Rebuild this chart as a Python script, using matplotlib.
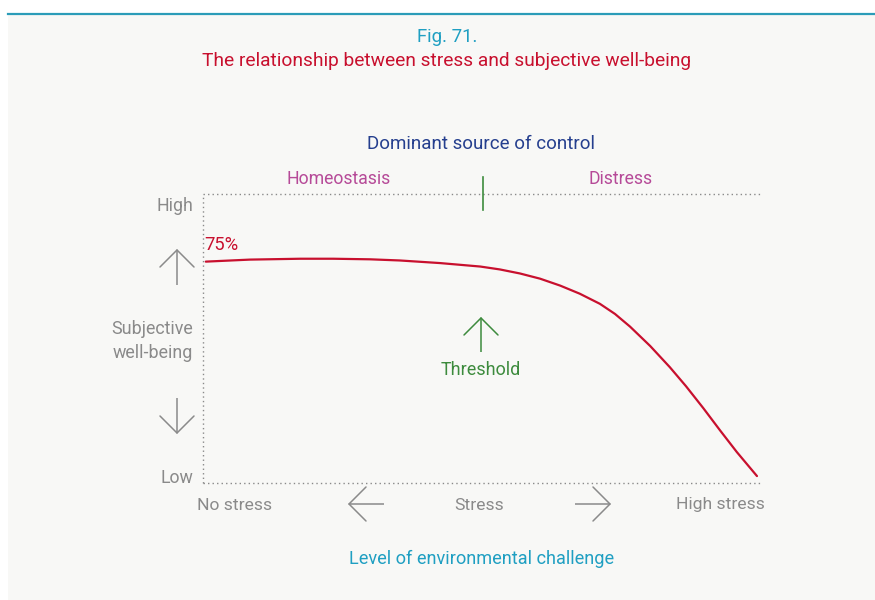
import matplotlib
matplotlib.use("Agg")
import matplotlib.pyplot as plt
from matplotlib.patches import Rectangle
import numpy as np

plt.rcParams['font.family'] = ['Roboto', 'DejaVu Sans']

# ---- data (stress level 0-100, subjective well-being %) ----
stress = [0.5, 8.4, 17.4, 23.3, 29.9, 35.2, 42.4, 49.6, 53.1, 56.7, 60.3, 63.9,
          67.4, 71.0, 73.7, 76.4, 80.0, 83.5, 86.4, 89.5, 92.5, 95.5, 99.1]
wellbeing = [76.6, 77.3, 77.6, 77.6, 77.4, 77.0, 76.1, 74.9, 73.9, 72.5, 70.7, 68.3,
             65.5, 62.0, 58.5, 54.1, 47.4, 40.1, 33.5, 25.9, 18.2, 10.7, 2.4]
threshold_x = 50.0
start_label = "75%"

fig_title_num = "Fig. 71."
fig_title = "The relationship between stress and subjective well-being"
top_title = "Dominant source of control"
zone_labels = ["Homeostasis", "Distress"]
x_labels = ["No stress", "Stress", "High stress"]
y_labels = ["High", "Subjective\nwell-being", "Low"]
x_title = "Level of environmental challenge"

W, H = 875, 600
fig = plt.figure(figsize=(W / 100, H / 100), dpi=100, facecolor='white')

# overlay axes in pixel coordinates
ov = fig.add_axes([0, 0, 1, 1])
ov.set_xlim(0, W)
ov.set_ylim(H, 0)
ov.axis('off')
ov.add_patch(Rectangle((8, 15), W - 8, H - 15, facecolor='#f8f8f6', edgecolor='none', zorder=0))
ov.plot([8, W], [14, 14], color='#2b9cb8', lw=1.6, zorder=1)

teal = '#1f9fc2'
red = '#c8102e'
navy = '#253f8e'
magenta = '#b64a98'
green = '#3d8b3d'
gray = '#8a8a8a'

ov.text(447, 37, fig_title_num, color=teal, fontsize=13.4, ha='center', va='center')
ov.text(447, 61, fig_title, color=red, fontsize=13.8, ha='center', va='center')

# main axes
L, R, T, B = 203, 762, 194, 483
ax = fig.add_axes([L / W, 1 - B / H, (R - L) / W, (B - T) / H])
ax.set_xlim(0, 100)
ax.set_ylim(0, 100)
ax.patch.set_alpha(0)
for s in ax.spines.values():
    s.set_visible(False)
ax.set_xticks([])
ax.set_yticks([])
dot = dict(color=gray, lw=1.0, linestyle=(0, (1, 2.25)), clip_on=False)
ax.plot([0, 100], [100, 100], **dot)
ax.plot([0, 100], [0, 0], **dot)
ax.plot([0, 0], [0, 100], **dot)

ax.plot(stress, wellbeing, color=red, lw=1.6, solid_capstyle='round',
        solid_joinstyle='round', clip_on=False)
ax.text(stress[0] - 0.2, wellbeing[0] + 2.5, start_label, color=red, fontsize=13.2,
        ha='left', va='bottom')
ax.plot([threshold_x, threshold_x], [94.5, 106], color=green, lw=1.2, clip_on=False)

# texts around
ov.text(481, 144, top_title, color=navy, fontsize=13.5, ha='center', va='center')
ov.text(339, 179, zone_labels[0], color=magenta, fontsize=12.7, ha='center', va='center')
ov.text(621, 179, zone_labels[1], color=magenta, fontsize=12.7, ha='center', va='center')

ov.text(193, 206, y_labels[0], color=gray, fontsize=12.8, ha='right', va='center')
ov.text(193, 341, y_labels[1], color=gray, fontsize=12.9, ha='right', va='center',
        multialignment='right', linespacing=1.45)
ov.text(193, 478, y_labels[2], color=gray, fontsize=12.8, ha='right', va='center')

ov.text(235, 505, x_labels[0], color=gray, fontsize=12.6, ha='center', va='center')
ov.text(479, 505, x_labels[1], color=gray, fontsize=12.6, ha='center', va='center')
ov.text(720, 505, x_labels[2], color=gray, fontsize=12.6, ha='center', va='center')

ov.text(481, 370, "Threshold", color=green, fontsize=13, ha='center', va='center')
ov.text(482, 559, x_title, color=teal, fontsize=13.1, ha='center', va='center')


def arrow(x0, y0, x1, y1, color, h=17):
    # open chevron arrow from (x0,y0) to tip (x1,y1)
    ov.plot([x0, x1], [y0, y1], color=color, lw=1.1, solid_capstyle='butt')
    d = np.array([x1 - x0, y1 - y0], float)
    d /= np.hypot(*d)
    n = np.array([-d[1], d[0]])
    for sgn in (1, -1):
        p = np.array([x1, y1]) - d * h + sgn * n * h
        ov.plot([x1, p[0]], [y1, p[1]], color=color, lw=1.1, solid_capstyle='round')


arrow(177, 285, 177, 250, gray)
arrow(177, 398, 177, 433, gray)
arrow(384, 504, 349, 504, gray)
arrow(575, 504, 610, 504, gray)
arrow(481, 352, 481, 318, green)

fig.savefig('out.png', dpi=100, facecolor=fig.get_facecolor())
